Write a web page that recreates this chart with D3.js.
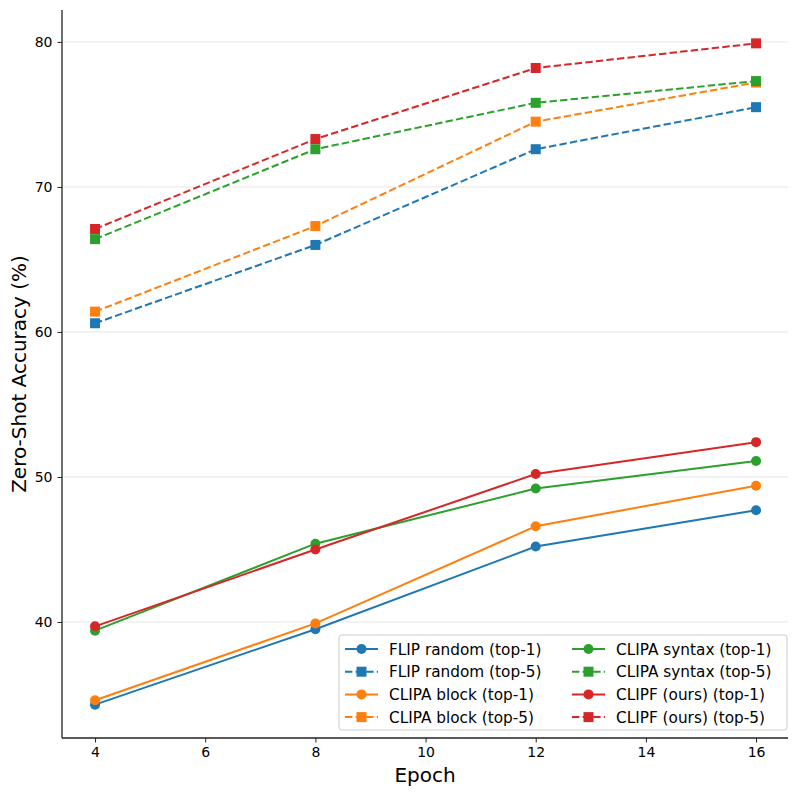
<!DOCTYPE html>
<html><head><meta charset="utf-8">
<script src="https://cdn.jsdelivr.net/npm/d3@7"></script>
<style>body{margin:0;background:#fff;} svg{display:block;font-family:"DejaVu Sans",sans-serif;}</style>
</head><body>
<svg id="c" width="797" height="796"></svg>
<script>
const epochs = [4, 8, 12, 16];
const xTicks = [4, 6, 8, 10, 12, 14, 16];
const yTicks = [40, 50, 60, 70, 80];
const seriesNames = ["FLIP random", "CLIPA block", "CLIPA syntax", "CLIPF (ours)"];
const seriesColors = ["#1f77b4", "#ff7f0e", "#2ca02c", "#d62728"];
const top1 = [
  [34.3, 39.5, 45.2, 47.7],
  [34.6, 39.9, 46.6, 49.4],
  [39.4, 45.4, 49.2, 51.1],
  [39.7, 45.0, 50.2, 52.4]
];
const top5 = [
  [60.6, 66.0, 72.6, 75.5],
  [61.4, 67.3, 74.5, 77.2],
  [66.4, 72.6, 75.8, 77.3],
  [67.1, 73.3, 78.2, 79.9]
];

const svg = d3.select("#c");
const L = 62, R = 788, T = 10, B = 738;
const x = d3.scaleLinear().domain([3.4, 16.58]).range([L, R]);
const y = d3.scaleLinear().domain([32, 82.2]).range([B, T]);

// grid
svg.append("g").selectAll("line").data(yTicks).join("line")
  .attr("x1", L).attr("x2", R).attr("y1", d => y(d)).attr("y2", d => y(d))
  .attr("stroke", "#b0b0b0").attr("stroke-opacity", 0.4).attr("stroke-width", 0.8);

// axes
const xa = svg.append("g").attr("transform", `translate(0,${B})`)
  .call(d3.axisBottom(x).tickValues(xTicks).tickSize(4.5).tickPadding(5));
const ya = svg.append("g").attr("transform", `translate(${L},0)`)
  .call(d3.axisLeft(y).tickValues(yTicks).tickSize(4.5).tickPadding(5));
[xa, ya].forEach(a => {
  a.selectAll("text").attr("font-size", 14).attr("fill", "#000").attr("font-family", "DejaVu Sans");
  a.selectAll("line").attr("stroke", "#222").attr("stroke-width", 1);
  a.select(".domain").attr("stroke", "#222").attr("stroke-width", 1.3);
});
xa.select(".domain").attr("d", `M${L},0H${R}`);
ya.select(".domain").attr("d", `M0,${B}V${T}`);

svg.append("text").attr("x", (L + R) / 2).attr("y", 782).attr("text-anchor", "middle")
  .attr("font-size", 20).text("Epoch");
svg.append("text").attr("transform", `translate(26,${(T + B) / 2}) rotate(-90)`)
  .attr("text-anchor", "middle").attr("font-size", 20).text("Zero-Shot Accuracy (%)");

const line = d3.line().x((d, i) => x(epochs[i])).y(d => y(d));

function drawSeries(vals, color, dashed) {
  const g = svg.append("g");
  g.append("path").attr("d", line(vals)).attr("fill", "none").attr("stroke", color)
    .attr("stroke-width", 2).attr("stroke-dasharray", dashed ? "7.4,3.2" : null);
  if (dashed) {
    g.selectAll("rect").data(vals).join("rect")
      .attr("x", (d, i) => x(epochs[i]) - 5).attr("y", d => y(d) - 5)
      .attr("width", 10).attr("height", 10).attr("fill", color);
  } else {
    g.selectAll("circle").data(vals).join("circle")
      .attr("cx", (d, i) => x(epochs[i])).attr("cy", d => y(d)).attr("r", 5).attr("fill", color);
  }
}
for (let s = 0; s < 4; s++) {
  drawSeries(top1[s], seriesColors[s], false);
  drawSeries(top5[s], seriesColors[s], true);
}

// legend
const lg = svg.append("g");
lg.append("rect").attr("x", 339).attr("y", 635).attr("width", 448).attr("height", 95)
  .attr("rx", 3).attr("fill", "#fff").attr("fill-opacity", 0.8).attr("stroke", "#ccc");
const entries = [];
seriesNames.forEach((n, s) => {
  entries.push({ name: n + " (top-1)", color: seriesColors[s], dashed: false });
  entries.push({ name: n + " (top-5)", color: seriesColors[s], dashed: true });
});
entries.forEach((e, i) => {
  const col = Math.floor(i / 4), row = i % 4;
  const x0 = col === 0 ? 345 : 572, yc = 649 + row * 22.7;
  const g = lg.append("g");
  g.append("line").attr("x1", x0).attr("x2", x0 + 33).attr("y1", yc).attr("y2", yc)
    .attr("stroke", e.color).attr("stroke-width", 2).attr("stroke-dasharray", e.dashed ? "7.4,3.2" : null);
  if (e.dashed) g.append("rect").attr("x", x0 + 11.5).attr("y", yc - 5).attr("width", 10).attr("height", 10).attr("fill", e.color);
  else g.append("circle").attr("cx", x0 + 16.5).attr("cy", yc).attr("r", 5).attr("fill", e.color);
  g.append("text").attr("x", x0 + 44).attr("y", yc + 5.5).attr("font-size", 15.3).text(e.name);
});
</script>
</body></html>
